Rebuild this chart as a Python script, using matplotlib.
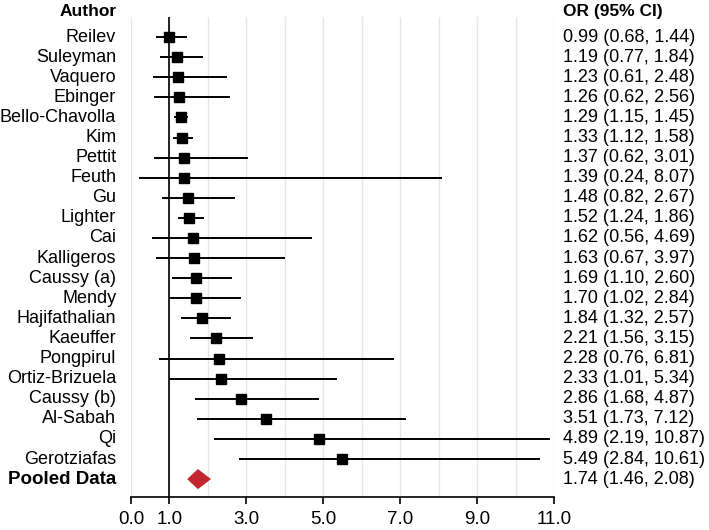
import matplotlib
matplotlib.use('Agg')
import matplotlib.pyplot as plt
from matplotlib.patches import Polygon

plt.rcParams['font.family'] = ['Liberation Sans', 'DejaVu Sans']

authors = ['Reilev', 'Suleyman', 'Vaquero', 'Ebinger', 'Bello-Chavolla', 'Kim', 'Pettit',
           'Feuth', 'Gu', 'Lighter', 'Cai', 'Kalligeros', 'Caussy (a)', 'Mendy',
           'Hajifathalian', 'Kaeuffer', 'Pongpirul', 'Ortiz-Brizuela', 'Caussy (b)',
           'Al-Sabah', 'Qi', 'Gerotziafas']
odds = [0.99, 1.19, 1.23, 1.26, 1.29, 1.33, 1.37, 1.39, 1.48, 1.52, 1.62, 1.63, 1.69,
        1.70, 1.84, 2.21, 2.28, 2.33, 2.86, 3.51, 4.89, 5.49]
lower = [0.68, 0.77, 0.61, 0.62, 1.15, 1.12, 0.62, 0.24, 0.82, 1.24, 0.56, 0.67, 1.10,
         1.02, 1.32, 1.56, 0.76, 1.01, 1.68, 1.73, 2.19, 2.84]
upper = [1.44, 1.84, 2.48, 2.56, 1.45, 1.58, 3.01, 8.07, 2.67, 1.86, 4.69, 3.97, 2.60,
         2.84, 2.57, 3.15, 6.81, 5.34, 4.87, 7.12, 10.87, 10.61]
pooled_label = 'Pooled Data'
pooled = (1.74, 1.46, 2.08)

fig = plt.figure(figsize=(7.09, 5.30), dpi=100)
ax = fig.add_axes([0.1848, 0.0623, 0.5966, 0.9057])

rows = list(range(len(authors)))
for i in rows:
    ax.plot([lower[i], upper[i]], [i, i], color='black', lw=1.4, zorder=3)
ax.plot(odds, rows, 's', color='black', markersize=7.5, zorder=4, linestyle='none')

# pooled diamond
pr = len(authors)
est, lo, hi = pooled
ax.add_patch(Polygon([(lo, pr), (est, pr - 0.5), (hi, pr), (est, pr + 0.5)],
                     closed=True, facecolor='#c1272d', edgecolor='none', zorder=4))

ax.axvline(1, color='black', lw=1.2, zorder=2)

ax.set_xlim(0, 11)
ax.set_ylim(22.89, -1.0)
ax.set_xticks([0, 1, 3, 5, 7, 9, 11])
ax.set_xticklabels(['%.1f' % t for t in [0, 1, 3, 5, 7, 9, 11]], fontsize=13.5)
ax.set_xticks([2, 4, 6, 8, 10], minor=True)
ax.tick_params(axis='x', which='major', length=5, width=1.2, direction='out', pad=5)
ax.tick_params(axis='x', which='minor', length=0)
ax.set_yticks([])
ax.grid(axis='x', which='both', color='#e6e6e6', lw=1, zorder=0)
for s in ['left', 'right', 'top']:
    ax.spines[s].set_visible(False)
ax.spines['bottom'].set_linewidth(1.2)

trans = ax.get_yaxis_transform()
for i, name in enumerate(authors):
    ax.text(-0.035, i, name, transform=trans, ha='right', va='center', fontsize=13)
    ax.text(1.021, i, '%.2f (%.2f, %.2f)' % (odds[i], lower[i], upper[i]),
            transform=trans, ha='left', va='center', fontsize=13, clip_on=False)
ax.text(-0.035, pr, pooled_label, transform=trans, ha='right', va='center',
        fontsize=13.5, fontweight='bold')
ax.text(1.021, pr, '%.2f (%.2f, %.2f)' % pooled, transform=trans, ha='left',
        va='center', fontsize=13)

ax.text(-0.035, -1.25, 'Author', transform=trans, ha='right', va='center',
        fontsize=12.5, fontweight='bold', clip_on=False)
ax.text(1.021, -1.25, 'OR (95% CI)', transform=trans, ha='left', va='center',
        fontsize=12.5, fontweight='bold', clip_on=False)

fig.savefig('out.png', dpi=100)
